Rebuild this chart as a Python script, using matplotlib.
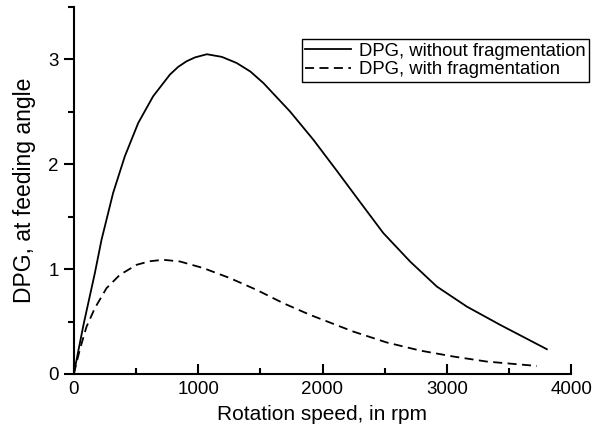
import numpy as np
import matplotlib.pyplot as plt
from matplotlib.ticker import MultipleLocator

plt.rcParams["font.family"] = ["Liberation Sans", "DejaVu Sans"]

# ------------------------------------------------------------
# Datos
# ------------------------------------------------------------
rpm_sin = [0, 43, 80, 169, 223, 316, 410, 518, 638, 773, 840, 907, 975, 1070, 1190,
           1309, 1420, 1524, 1738, 1926, 2114, 2302, 2489, 2704, 2919, 3160, 3429, 3804]
dpg_sin = [0, 0.26, 0.48, 0.96, 1.28, 1.726, 2.075, 2.394, 2.649, 2.856, 2.93, 2.983, 3.02, 3.05, 3.025,
           2.967, 2.885, 2.776, 2.505, 2.235, 1.94, 1.64, 1.344, 1.073, 0.834, 0.643, 0.468, 0.236]

rpm_con = [0, 48, 102, 169, 263, 370, 505, 610, 719, 853, 1041, 1256, 1470,
           1685, 1899, 2248, 2517, 2785, 3053, 3321, 3724]
dpg_con = [0, 0.23, 0.45, 0.627, 0.818, 0.945, 1.041, 1.075, 1.089, 1.073, 1.01, 0.914, 0.802,
           0.675, 0.564, 0.404, 0.30, 0.223, 0.166, 0.118, 0.076]

etiquetas = ["DPG, without fragmentation", "DPG, with fragmentation"]

# ------------------------------------------------------------
# Figura
# ------------------------------------------------------------
fig = plt.figure(figsize=(6, 4.42), dpi=100)
ax = fig.add_axes([0.123, 0.154, 0.829, 0.830])

ax.plot(rpm_sin, dpg_sin, color="black", lw=1.3, label=etiquetas[0])
ax.plot(rpm_con, dpg_con, color="black", lw=1.3, ls=(0, (5, 3)), label=etiquetas[1])

ax.set_xlim(0, 4000)
ax.set_ylim(0, 3.5)
ax.xaxis.set_major_locator(MultipleLocator(1000))
ax.xaxis.set_minor_locator(MultipleLocator(500))
ax.yaxis.set_major_locator(MultipleLocator(1))
ax.yaxis.set_minor_locator(MultipleLocator(0.5))

for lado in ["top", "right"]:
    ax.spines[lado].set_visible(False)
for lado in ["left", "bottom"]:
    ax.spines[lado].set_linewidth(1.5)

ax.tick_params(axis="x", which="major", direction="in", length=7, width=1.5,
               labelsize=13.5, pad=5)
ax.tick_params(axis="x", which="minor", direction="in", length=4, width=1.5)
ax.tick_params(axis="y", which="major", direction="out", length=7, width=1.5,
               labelsize=13.5, pad=4)
ax.tick_params(axis="y", which="minor", direction="out", length=4, width=1.5)

ax.set_xlabel("Rotation speed, in rpm", fontsize=15, labelpad=5)
ax.set_ylabel("DPG, at feeding angle", fontsize=16.5, labelpad=9)

leg = ax.legend(loc="upper right", bbox_to_anchor=(0.982, 0.912),
                bbox_transform=fig.transFigure, fontsize=13.3,
                frameon=True, fancybox=False, framealpha=1,
                edgecolor="black", handlelength=2.5, handletextpad=0.4,
                borderpad=0.2, labelspacing=0.1, borderaxespad=0)
leg.get_frame().set_linewidth(1.0)

fig.savefig("out.png", dpi=100)
